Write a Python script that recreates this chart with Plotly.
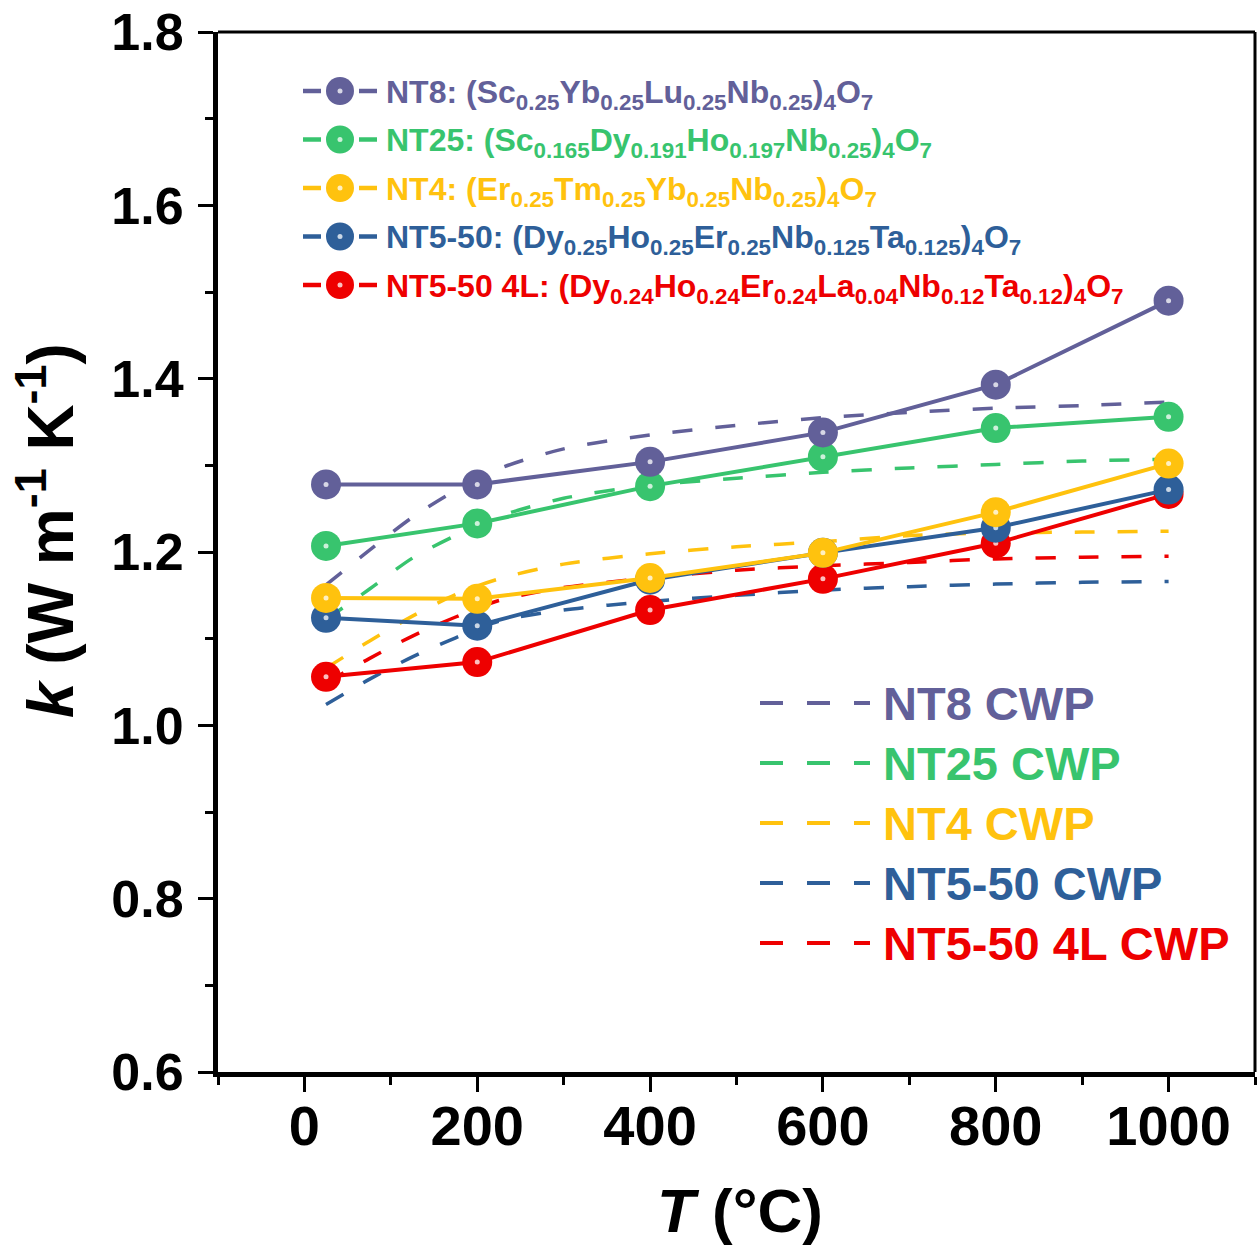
import plotly.graph_objects as go

# ---------------- data ----------------
T = [25, 200, 400, 600, 800, 1000]
k_NT8 = [1.278, 1.278, 1.304, 1.338, 1.393, 1.490]
k_NT25 = [1.207, 1.233, 1.276, 1.310, 1.343, 1.356]
k_NT4 = [1.147, 1.146, 1.170, 1.199, 1.246, 1.302]
k_NT5_50 = [1.124, 1.115, 1.168, 1.199, 1.228, 1.272]
k_NT5_50_4L = [1.056, 1.073, 1.133, 1.169, 1.210, 1.267]

T_cwp = [25, 75, 125, 175, 225, 300, 400, 500, 600, 700, 800, 900, 1000]
cwp_NT8 = [1.162, 1.202, 1.240, 1.271, 1.296, 1.319, 1.335, 1.346, 1.355, 1.361, 1.366, 1.369, 1.373]
cwp_NT25 = [1.122, 1.157, 1.193, 1.219, 1.241, 1.262, 1.277, 1.285, 1.292, 1.297, 1.301, 1.305, 1.307]
cwp_NT4 = [1.066, 1.097, 1.126, 1.151, 1.169, 1.186, 1.198, 1.206, 1.212, 1.219, 1.222, 1.223, 1.224]
cwp_NT5_50 = [1.024, 1.053, 1.079, 1.101, 1.120, 1.133, 1.143, 1.150, 1.156, 1.160, 1.163, 1.165, 1.166]
cwp_NT5_50_4L = [1.049, 1.077, 1.103, 1.125, 1.144, 1.159, 1.170, 1.179, 1.184, 1.188, 1.192, 1.194, 1.195]

measured = [k_NT8, k_NT25, k_NT4, k_NT5_50, k_NT5_50_4L]
cwp = [cwp_NT8, cwp_NT25, cwp_NT4, cwp_NT5_50, cwp_NT5_50_4L]

formula_labels = [
    "NT8: (Sc<sub>0.25</sub>Yb<sub>0.25</sub>Lu<sub>0.25</sub>Nb<sub>0.25</sub>)<sub>4</sub>O<sub>7</sub>",
    "NT25: (Sc<sub>0.165</sub>Dy<sub>0.191</sub>Ho<sub>0.197</sub>Nb<sub>0.25</sub>)<sub>4</sub>O<sub>7</sub>",
    "NT4: (Er<sub>0.25</sub>Tm<sub>0.25</sub>Yb<sub>0.25</sub>Nb<sub>0.25</sub>)<sub>4</sub>O<sub>7</sub>",
    "NT5-50: (Dy<sub>0.25</sub>Ho<sub>0.25</sub>Er<sub>0.25</sub>Nb<sub>0.125</sub>Ta<sub>0.125</sub>)<sub>4</sub>O<sub>7</sub>",
    "NT5-50 4L: (Dy<sub>0.24</sub>Ho<sub>0.24</sub>Er<sub>0.24</sub>La<sub>0.04</sub>Nb<sub>0.12</sub>Ta<sub>0.12</sub>)<sub>4</sub>O<sub>7</sub>",
]
cwp_labels = ["NT8 CWP", "NT25 CWP", "NT4 CWP", "NT5-50 CWP", "NT5-50 4L CWP"]
colors = ["#626099", "#38c46e", "#ffc20e", "#2e5f99", "#ee0000"]

x_ticks = [0, 200, 400, 600, 800, 1000]

# ---------------- layout geometry (page pixels) ----------------
W, H = 1258, 1247
PL, PR, PT, PB = 218, 1255, 32, 1072
FONT = "Liberation Sans, Arial, sans-serif"


def px2paper(x, y):
    return (x - PL) / (PR - PL), (PB - y) / (PB - PT)


fig = go.Figure()

# model (CWP) dashed curves
for ys, c in zip(cwp, colors):
    fig.add_trace(go.Scatter(
        x=T_cwp, y=ys, mode="lines",
        line=dict(color=c, width=3.5, dash="20px,23px", shape="spline", smoothing=0.8),
        hoverinfo="skip", showlegend=False))

# measured data (drawn last-to-first so NT8 is on top)
for i in reversed(range(5)):
    fig.add_trace(go.Scatter(
        x=T, y=measured[i], mode="lines+markers",
        line=dict(color=colors[i], width=4),
        marker=dict(size=30, color=colors[i], line=dict(width=0)),
        showlegend=False))
    fig.add_trace(go.Scatter(
        x=T, y=measured[i], mode="markers",
        marker=dict(size=5, color="rgba(255,255,255,0.75)", line=dict(width=0)),
        hoverinfo="skip", showlegend=False))

# ---------------- custom legends (overlay axes in page pixels) ----------------
annotations = []
top_rows = [91 + 48.5 * i for i in range(5)]
for i, (lab, c) in enumerate(zip(formula_labels, colors)):
    y = top_rows[i]
    fig.add_trace(go.Scatter(
        x=[303, 321, None, 359, 377], y=[y, y, None, y, y], mode="lines",
        line=dict(color=c, width=4.5), xaxis="x2", yaxis="y2",
        hoverinfo="skip", showlegend=False))
    fig.add_trace(go.Scatter(
        x=[340], y=[y], mode="markers",
        marker=dict(size=28, color=c, line=dict(width=0)), xaxis="x2", yaxis="y2",
        hoverinfo="skip", showlegend=False))
    fig.add_trace(go.Scatter(
        x=[340], y=[y], mode="markers",
        marker=dict(size=5, color="rgba(255,255,255,0.75)", line=dict(width=0)),
        xaxis="x2", yaxis="y2", hoverinfo="skip", showlegend=False))
    annotations.append(dict(
        x=384, y=y + 3, xref="x2", yref="y2", xanchor="left", yanchor="middle",
        text="<b>" + lab + "</b>", showarrow=False,
        font=dict(family=FONT, size=32, color=c)))

bot_rows = [703 + 60 * i for i in range(5)]
for i, (lab, c) in enumerate(zip(cwp_labels, colors)):
    y = bot_rows[i]
    fig.add_trace(go.Scatter(
        x=[760, 870], y=[y, y], mode="lines",
        line=dict(color=c, width=4, dash="23px,24px"), xaxis="x2", yaxis="y2",
        hoverinfo="skip", showlegend=False))
    annotations.append(dict(
        x=881, y=y, xref="x2", yref="y2", xanchor="left", yanchor="middle",
        text="<b>" + lab + "</b>", showarrow=False,
        font=dict(family=FONT, size=47, color=c)))

# axis titles
ax, ay = px2paper(46, 531)
annotations.append(dict(
    x=ax, y=ay, xref="paper", yref="paper", xanchor="center", yanchor="middle",
    textangle=-90, showarrow=False,
    text="<b><i>k</i> (W m<sup>-1</sup> K<sup>-1</sup>)</b>",
    font=dict(family=FONT, size=64, color="black")))
tx, ty = px2paper(740, 1210)
annotations.append(dict(
    x=tx, y=ty, xref="paper", yref="paper", xanchor="center", yanchor="middle",
    showarrow=False, text="<b><i>T</i> (°C)</b>",
    font=dict(family=FONT, size=62, color="black")))

fig.update_layout(
    width=W, height=H,
    margin=dict(l=PL, r=W - PR, t=PT, b=H - PB, pad=0),
    paper_bgcolor="white", plot_bgcolor="white",
    showlegend=False,
    xaxis=dict(
        range=[-100, 1100], tickvals=x_ticks, ticktext=[str(v) for v in x_ticks],
        ticks="outside", ticklen=15, tickwidth=3, tickcolor="black",
        minor=dict(dtick=100, tick0=0, ticks="outside", ticklen=8, tickwidth=3, tickcolor="black"),
        showline=True, linewidth=5, linecolor="black",
        showgrid=False, zeroline=False,
        ticklabelstandoff=-14,
        tickfont=dict(family="Liberation Sans Narrow, Arial Narrow, " + FONT, size=56,
                      color="black", weight=700)),
    yaxis=dict(
        range=[0.6, 1.8], dtick=0.2, tick0=0.6, tickformat=".1f",
        ticks="outside", ticklen=15, tickwidth=3, tickcolor="black",
        minor=dict(dtick=0.1, tick0=0.6, ticks="outside", ticklen=8, tickwidth=3, tickcolor="black"),
        showline=True, linewidth=5, linecolor="black",
        showgrid=False, zeroline=False,
        ticklabelstandoff=4,
        tickfont=dict(family=FONT, size=52, color="black", weight=700)),
    xaxis2=dict(range=[PL, PR], overlaying="x", anchor="y2", visible=False, fixedrange=True),
    yaxis2=dict(range=[PB, PT], overlaying="y", anchor="x2", visible=False, fixedrange=True),
    annotations=annotations,
    shapes=[
        dict(type="line", xref="paper", yref="paper", x0=0, x1=1, y0=1, y1=1,
             line=dict(color="black", width=3)),
        dict(type="line", xref="paper", yref="paper", x0=1, x1=1, y0=0, y1=1,
             line=dict(color="black", width=3)),
    ],
)

fig.write_html("out.html")
